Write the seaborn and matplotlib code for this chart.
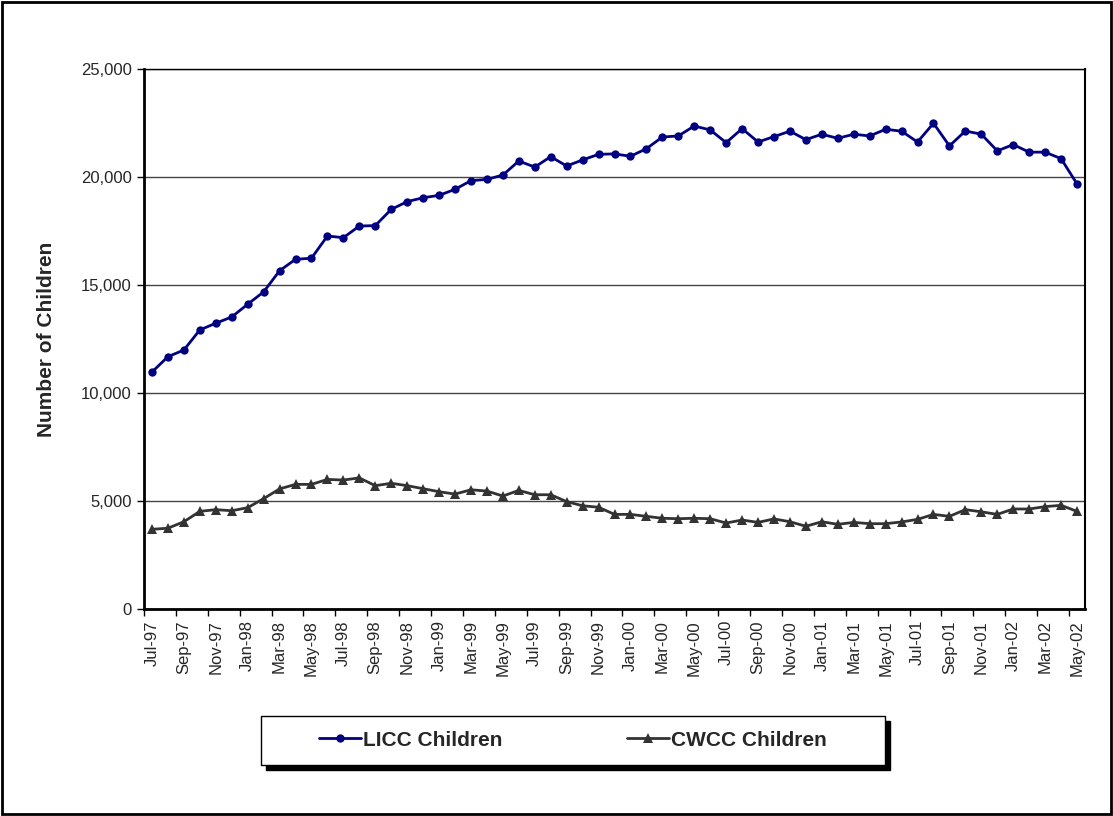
import numpy as np
import pandas as pd
import matplotlib
matplotlib.use("Agg")
import matplotlib.pyplot as plt
import matplotlib.ticker as mticker
from matplotlib.patches import Rectangle
import seaborn as sns

# monthly enrollment, Jul-97 .. May-02
months = [
    "Jul-97", "Aug-97", "Sep-97", "Oct-97", "Nov-97", "Dec-97",
    "Jan-98", "Feb-98", "Mar-98", "Apr-98", "May-98", "Jun-98",
    "Jul-98", "Aug-98", "Sep-98", "Oct-98", "Nov-98", "Dec-98",
    "Jan-99", "Feb-99", "Mar-99", "Apr-99", "May-99", "Jun-99",
    "Jul-99", "Aug-99", "Sep-99", "Oct-99", "Nov-99", "Dec-99",
    "Jan-00", "Feb-00", "Mar-00", "Apr-00", "May-00", "Jun-00",
    "Jul-00", "Aug-00", "Sep-00", "Oct-00", "Nov-00", "Dec-00",
    "Jan-01", "Feb-01", "Mar-01", "Apr-01", "May-01", "Jun-01",
    "Jul-01", "Aug-01", "Sep-01", "Oct-01", "Nov-01", "Dec-01",
    "Jan-02", "Feb-02", "Mar-02", "Apr-02", "May-02",
]

licc = [
    10970, 11680, 11990, 12920, 13230, 13520, 14110, 14680, 15660, 16190,
    16240, 17270, 17190, 17730, 17750, 18500, 18860, 19040, 19150, 19430,
    19830, 19890, 20090, 20740, 20460, 20940, 20510, 20790, 21050, 21070,
    20960, 21310, 21850, 21900, 22360, 22180, 21590, 22240, 21620, 21870,
    22120, 21730, 21980, 21790, 21980, 21900, 22210, 22120, 21620, 22490,
    21440, 22130, 21980, 21210, 21500, 21150, 21150, 20850, 19680,
]

cwcc = [
    3690, 3740, 4040, 4520, 4600, 4550, 4690, 5110, 5560, 5770,
    5770, 6000, 5970, 6070, 5710, 5820, 5710, 5570, 5430, 5320,
    5520, 5460, 5230, 5490, 5290, 5290, 4970, 4780, 4710, 4380,
    4380, 4290, 4200, 4180, 4200, 4180, 3980, 4120, 4010, 4170,
    4040, 3830, 4040, 3920, 4010, 3950, 3950, 4030, 4150, 4380,
    4290, 4600, 4500, 4380, 4630, 4630, 4740, 4800, 4520,
]

df = pd.DataFrame({"pos": np.arange(len(months)), "month": months,
                   "LICC Children": licc, "CWCC Children": cwcc})

sns.set_style("white")
plt.rcParams["font.family"] = ["Liberation Sans", "DejaVu Sans"]

fig = plt.figure(figsize=(11.13, 8.16), dpi=100)
ax = fig.add_axes([144 / 1113, 1 - 609 / 816, (1085 - 144) / 1113, (609 - 69) / 816])

sns.lineplot(data=df, x="pos", y="LICC Children", ax=ax, color="#000080",
             linewidth=2, marker="o", markersize=6, markeredgewidth=0,
             label="LICC Children", legend=False)
sns.lineplot(data=df, x="pos", y="CWCC Children", ax=ax, color="#333333",
             linewidth=2, marker="^", markersize=6.5, markeredgewidth=0,
             label="CWCC Children", legend=False)

ax.set_xlim(-0.5, len(months) - 0.5)
ax.set_ylim(0, 25000)

# labels at every other month, tick marks between categories
ax.set_xticks(df["pos"][::2])
ax.set_xticklabels(df["month"][::2], rotation=90, fontsize=12)
ax.set_xticks(np.arange(-0.5, len(months) - 1, 2), minor=True)
ax.tick_params(axis="x", which="major", length=0, pad=8)
ax.tick_params(axis="x", which="minor", length=5, width=1, color="black",
               direction="out", bottom=True)

ax.set_yticks(np.arange(0, 25001, 5000))
ax.yaxis.set_major_formatter(mticker.StrMethodFormatter("{x:,.0f}"))
ax.tick_params(axis="y", length=5, width=1, color="black", direction="out",
               left=True, labelsize=12, pad=4)

ax.grid(axis="y", color="#444444", linewidth=1)
ax.set_axisbelow(True)
for side in ["left", "bottom", "top", "right"]:
    ax.spines[side].set_visible(True)
    ax.spines[side].set_color("black")
ax.spines["left"].set_linewidth(2)
ax.spines["bottom"].set_linewidth(2)
ax.spines["top"].set_linewidth(1)
ax.spines["right"].set_linewidth(1.5)

ax.set_xlabel("")
ax.set_ylabel("Number of Children", fontsize=15, fontweight="bold", labelpad=18)

# legend box with drop shadow
fig.patches.append(Rectangle((266 / 1113, 1 - 770 / 816), 624 / 1113, 49 / 816,
                             transform=fig.transFigure, facecolor="black",
                             edgecolor="black", zorder=1))
fig.patches.append(Rectangle((261 / 1113, 1 - 765 / 816), 624 / 1113, 49 / 816,
                             transform=fig.transFigure, facecolor="white",
                             edgecolor="black", linewidth=1, zorder=2))
handles, labels = ax.get_legend_handles_labels()
leg = fig.legend(handles, labels, loc="center", ncol=2, frameon=False,
                 bbox_to_anchor=(573 / 1113, 1 - 740 / 816),
                 prop={"size": 15, "weight": "bold"},
                 handlelength=2.0, handletextpad=0.1, columnspacing=6.0)
leg.set_zorder(3)

# outer chart border
fig.patches.append(Rectangle((0.002, 0.002), 0.996, 0.996, transform=fig.transFigure,
                             facecolor="none", edgecolor="black", linewidth=2,
                             zorder=0))

fig.savefig("out.png", dpi=100, facecolor="white")
